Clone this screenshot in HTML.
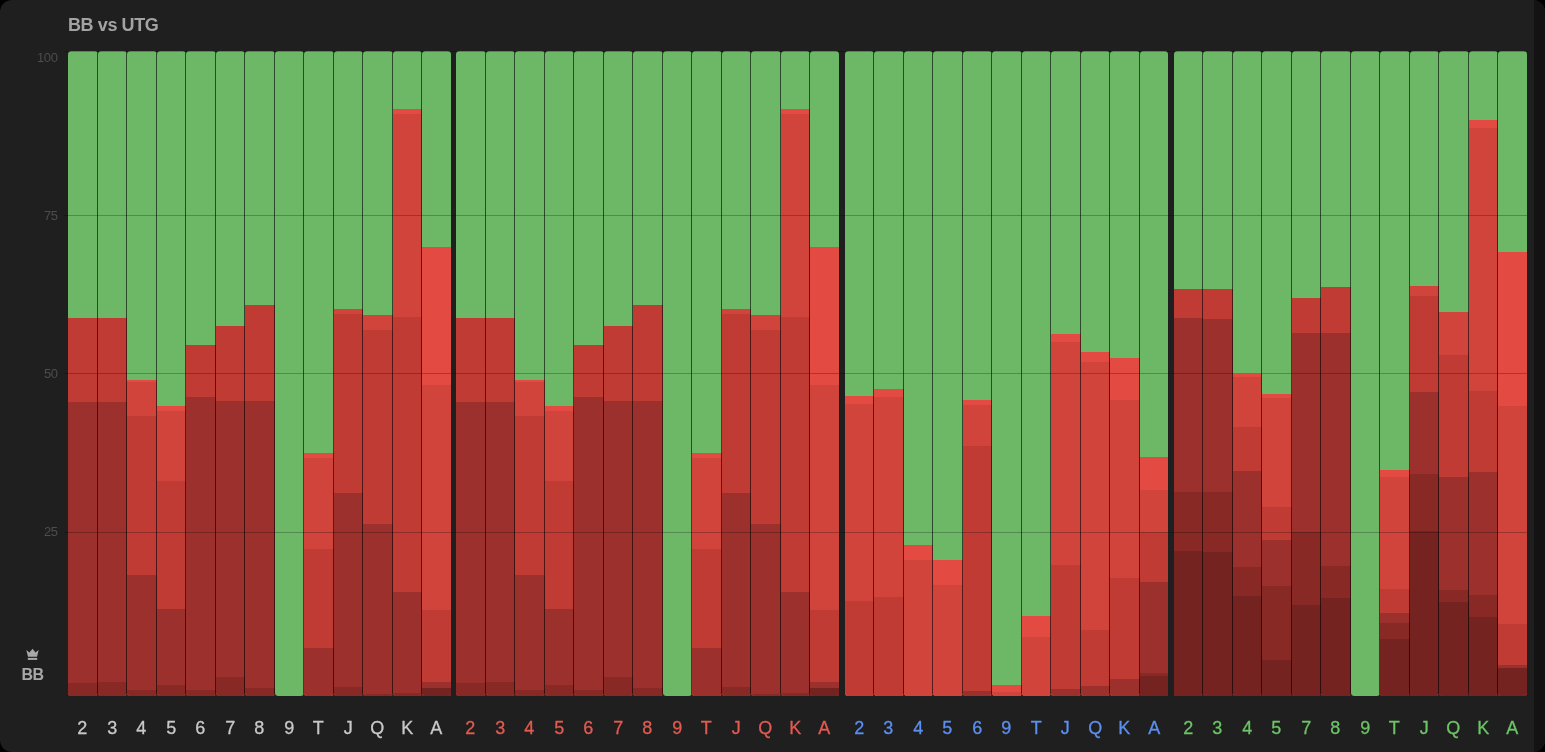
<!DOCTYPE html>
<html><head><meta charset="utf-8"><title>BB vs UTG</title>
<style>
html,body{margin:0;padding:0;background:#000;width:1545px;height:752px;overflow:hidden}
body{font-family:"Liberation Sans",sans-serif}
.card{position:absolute;left:0;top:0;width:1545px;height:752px;border-radius:12px;background:#1f1f1f;overflow:hidden}
.strip{position:absolute;left:1534px;top:0;width:11px;height:752px;background:#131313}
.title{position:absolute;left:68.3px;top:13.7px;font-size:18px;line-height:22px;font-weight:700;color:#a3a3a3;white-space:nowrap;letter-spacing:-0.4px;will-change:transform}
.yl{position:absolute;right:1487.6px;letter-spacing:-0.4px;font-size:13px;line-height:14px;color:#4d4d4d;text-align:right;white-space:nowrap;will-change:transform}
.b{position:absolute;top:51px;width:28.5px;height:645px;border-radius:3.5px;overflow:hidden}
.b i{position:absolute;left:0;width:100%;bottom:0;display:block}
.b.n{width:29.5px}
.b.n::after{content:"";position:absolute;right:0;top:0;bottom:0;width:1px;background:rgba(0,0,0,.6)}
.gl{position:absolute;left:64px;width:1463px;height:1px;background:rgba(0,0,0,.25)}
.xl{position:absolute;top:717px;width:28.5px;text-align:center;font-size:18px;line-height:22px;-webkit-text-stroke:0.3px currentColor;will-change:transform}
.bb{position:absolute;left:20px;top:665px;width:25px;text-align:center;font-size:16px;line-height:20px;font-weight:700;color:#a8a8a8;letter-spacing:-0.6px;will-change:transform}
.crown{position:absolute;left:26px;top:648px}
</style></head><body>
<div class="card">
<div class="strip"></div>
<div class="title">BB vs UTG</div>
<div class="yl" style="top:50.8px">100</div>
<div class="yl" style="top:208.8px">75</div>
<div class="yl" style="top:367px">50</div>
<div class="yl" style="top:525px">25</div>
<div class="b n" style="left:68.3px"><i style="top:0px;background:#6cb866"></i><i style="top:267.2px;background:#bf3b34"></i><i style="top:351.2px;background:#9b302d"></i><i style="top:632.1px;background:#882925"></i></div>
<div class="b n" style="left:97.8px"><i style="top:0px;background:#6cb866"></i><i style="top:266.7px;background:#bf3b34"></i><i style="top:351.2px;background:#9b302d"></i><i style="top:631.2px;background:#882925"></i></div>
<div class="b n" style="left:127.3px"><i style="top:0px;background:#6cb866"></i><i style="top:328.9px;background:#e24a42"></i><i style="top:330.8px;background:#d1443c"></i><i style="top:364.7px;background:#bf3b34"></i><i style="top:524.2px;background:#9b302d"></i><i style="top:639px;background:#882925"></i></div>
<div class="b n" style="left:156.8px"><i style="top:0px;background:#6cb866"></i><i style="top:354.9px;background:#e24a42"></i><i style="top:359.9px;background:#d1443c"></i><i style="top:429.8px;background:#bf3b34"></i><i style="top:557.7px;background:#9b302d"></i><i style="top:633.6px;background:#882925"></i></div>
<div class="b n" style="left:186.3px"><i style="top:0px;background:#6cb866"></i><i style="top:294.4px;background:#bf3b34"></i><i style="top:345.6px;background:#9b302d"></i><i style="top:639.3px;background:#882925"></i></div>
<div class="b n" style="left:215.8px"><i style="top:0px;background:#6cb866"></i><i style="top:274.8px;background:#bf3b34"></i><i style="top:349.9px;background:#9b302d"></i><i style="top:626.3px;background:#882925"></i></div>
<div class="b n" style="left:245.3px"><i style="top:0px;background:#6cb866"></i><i style="top:253.8px;background:#bf3b34"></i><i style="top:349.9px;background:#9b302d"></i><i style="top:637.4px;background:#882925"></i></div>
<div class="b n" style="left:274.8px"><i style="top:0px;background:#6cb866"></i></div>
<div class="b n" style="left:304.3px"><i style="top:0px;background:#6cb866"></i><i style="top:401.5px;background:#e24a42"></i><i style="top:407.1px;background:#d1443c"></i><i style="top:497.5px;background:#bf3b34"></i><i style="top:596.8px;background:#9b302d"></i></div>
<div class="b n" style="left:333.8px"><i style="top:0px;background:#6cb866"></i><i style="top:258.3px;background:#d1443c"></i><i style="top:262.9px;background:#bf3b34"></i><i style="top:441.9px;background:#9b302d"></i><i style="top:636.1px;background:#882925"></i></div>
<div class="b n" style="left:363.3px"><i style="top:0px;background:#6cb866"></i><i style="top:263.9px;background:#d1443c"></i><i style="top:278.6px;background:#bf3b34"></i><i style="top:473px;background:#9b302d"></i><i style="top:643px;background:#882925"></i></div>
<div class="b n" style="left:392.8px"><i style="top:0px;background:#6cb866"></i><i style="top:58px;background:#e24a42"></i><i style="top:62.6px;background:#d1443c"></i><i style="top:265.7px;background:#bf3b34"></i><i style="top:540.9px;background:#9b302d"></i><i style="top:642.1px;background:#882925"></i></div>
<div class="b" style="left:422.3px"><i style="top:0px;background:#6cb866"></i><i style="top:195.9px;background:#e24a42"></i><i style="top:333.9px;background:#d1443c"></i><i style="top:558.6px;background:#bf3b34"></i><i style="top:631.2px;background:#9b302d"></i><i style="top:637.1px;background:#742320"></i></div>
<div class="b n" style="left:456.3px"><i style="top:0px;background:#6cb866"></i><i style="top:267.2px;background:#bf3b34"></i><i style="top:351.2px;background:#9b302d"></i><i style="top:632.1px;background:#882925"></i></div>
<div class="b n" style="left:485.8px"><i style="top:0px;background:#6cb866"></i><i style="top:266.7px;background:#bf3b34"></i><i style="top:351.2px;background:#9b302d"></i><i style="top:631.2px;background:#882925"></i></div>
<div class="b n" style="left:515.3px"><i style="top:0px;background:#6cb866"></i><i style="top:328.9px;background:#e24a42"></i><i style="top:330.8px;background:#d1443c"></i><i style="top:364.7px;background:#bf3b34"></i><i style="top:524.2px;background:#9b302d"></i><i style="top:639px;background:#882925"></i></div>
<div class="b n" style="left:544.8px"><i style="top:0px;background:#6cb866"></i><i style="top:354.9px;background:#e24a42"></i><i style="top:359.9px;background:#d1443c"></i><i style="top:429.8px;background:#bf3b34"></i><i style="top:557.7px;background:#9b302d"></i><i style="top:633.6px;background:#882925"></i></div>
<div class="b n" style="left:574.3px"><i style="top:0px;background:#6cb866"></i><i style="top:294.4px;background:#bf3b34"></i><i style="top:345.6px;background:#9b302d"></i><i style="top:639.3px;background:#882925"></i></div>
<div class="b n" style="left:603.8px"><i style="top:0px;background:#6cb866"></i><i style="top:274.8px;background:#bf3b34"></i><i style="top:349.9px;background:#9b302d"></i><i style="top:626.3px;background:#882925"></i></div>
<div class="b n" style="left:633.3px"><i style="top:0px;background:#6cb866"></i><i style="top:253.8px;background:#bf3b34"></i><i style="top:349.9px;background:#9b302d"></i><i style="top:637.4px;background:#882925"></i></div>
<div class="b n" style="left:662.8px"><i style="top:0px;background:#6cb866"></i></div>
<div class="b n" style="left:692.3px"><i style="top:0px;background:#6cb866"></i><i style="top:401.5px;background:#e24a42"></i><i style="top:407.1px;background:#d1443c"></i><i style="top:497.5px;background:#bf3b34"></i><i style="top:596.8px;background:#9b302d"></i></div>
<div class="b n" style="left:721.8px"><i style="top:0px;background:#6cb866"></i><i style="top:258.3px;background:#d1443c"></i><i style="top:262.9px;background:#bf3b34"></i><i style="top:441.9px;background:#9b302d"></i><i style="top:636.1px;background:#882925"></i></div>
<div class="b n" style="left:751.3px"><i style="top:0px;background:#6cb866"></i><i style="top:263.9px;background:#d1443c"></i><i style="top:278.6px;background:#bf3b34"></i><i style="top:473px;background:#9b302d"></i><i style="top:643px;background:#882925"></i></div>
<div class="b n" style="left:780.8px"><i style="top:0px;background:#6cb866"></i><i style="top:58px;background:#e24a42"></i><i style="top:62.6px;background:#d1443c"></i><i style="top:265.7px;background:#bf3b34"></i><i style="top:540.9px;background:#9b302d"></i><i style="top:642.1px;background:#882925"></i></div>
<div class="b" style="left:810.3px"><i style="top:0px;background:#6cb866"></i><i style="top:195.9px;background:#e24a42"></i><i style="top:333.9px;background:#d1443c"></i><i style="top:558.6px;background:#bf3b34"></i><i style="top:631.2px;background:#9b302d"></i><i style="top:637.1px;background:#742320"></i></div>
<div class="b n" style="left:844.8px"><i style="top:0px;background:#6cb866"></i><i style="top:345px;background:#e24a42"></i><i style="top:353.2px;background:#d1443c"></i><i style="top:549.8px;background:#bf3b34"></i></div>
<div class="b n" style="left:874.3px"><i style="top:0px;background:#6cb866"></i><i style="top:338.3px;background:#e24a42"></i><i style="top:345.7px;background:#d1443c"></i><i style="top:546px;background:#bf3b34"></i></div>
<div class="b n" style="left:903.8px"><i style="top:0px;background:#6cb866"></i><i style="top:494.3px;background:#e24a42"></i><i style="top:508.8px;background:#d1443c"></i></div>
<div class="b n" style="left:933.3px"><i style="top:0px;background:#6cb866"></i><i style="top:508.8px;background:#e24a42"></i><i style="top:533.9px;background:#d1443c"></i></div>
<div class="b n" style="left:962.8px"><i style="top:0px;background:#6cb866"></i><i style="top:348.7px;background:#e24a42"></i><i style="top:354.3px;background:#d1443c"></i><i style="top:394.7px;background:#bf3b34"></i><i style="top:640px;background:#9b302d"></i></div>
<div class="b n" style="left:992.3px"><i style="top:0px;background:#6cb866"></i><i style="top:634px;background:#e24a42"></i><i style="top:641px;background:#d1443c"></i></div>
<div class="b n" style="left:1021.8px"><i style="top:0px;background:#6cb866"></i><i style="top:565px;background:#e24a42"></i><i style="top:585.8px;background:#d1443c"></i></div>
<div class="b n" style="left:1051.3px"><i style="top:0px;background:#6cb866"></i><i style="top:282.6px;background:#e24a42"></i><i style="top:290.8px;background:#d1443c"></i><i style="top:514.1px;background:#bf3b34"></i><i style="top:637.7px;background:#9b302d"></i></div>
<div class="b n" style="left:1080.8px"><i style="top:0px;background:#6cb866"></i><i style="top:301px;background:#e24a42"></i><i style="top:310.9px;background:#d1443c"></i><i style="top:579.2px;background:#bf3b34"></i><i style="top:635.1px;background:#9b302d"></i></div>
<div class="b n" style="left:1110.3px"><i style="top:0px;background:#6cb866"></i><i style="top:307.2px;background:#e24a42"></i><i style="top:349.1px;background:#d1443c"></i><i style="top:527.1px;background:#bf3b34"></i><i style="top:627.5px;background:#9b302d"></i></div>
<div class="b" style="left:1139.8px"><i style="top:0px;background:#6cb866"></i><i style="top:405.9px;background:#e24a42"></i><i style="top:439px;background:#d1443c"></i><i style="top:481px;background:#bf3b34"></i><i style="top:531.2px;background:#9b302d"></i><i style="top:621.9px;background:#882925"></i><i style="top:625.3px;background:#742320"></i></div>
<div class="b n" style="left:1173.9px"><i style="top:0px;background:#6cb866"></i><i style="top:238.2px;background:#bf3b34"></i><i style="top:267px;background:#9b302d"></i><i style="top:440.9px;background:#882925"></i><i style="top:500.1px;background:#742320"></i></div>
<div class="b n" style="left:1203.4px"><i style="top:0px;background:#6cb866"></i><i style="top:237.8px;background:#bf3b34"></i><i style="top:268px;background:#9b302d"></i><i style="top:440.9px;background:#882925"></i><i style="top:501.1px;background:#742320"></i></div>
<div class="b n" style="left:1232.9px"><i style="top:0px;background:#6cb866"></i><i style="top:323.3px;background:#e24a42"></i><i style="top:326.2px;background:#d1443c"></i><i style="top:376.1px;background:#bf3b34"></i><i style="top:419.9px;background:#9b302d"></i><i style="top:515.6px;background:#882925"></i><i style="top:545px;background:#742320"></i></div>
<div class="b n" style="left:1262.4px"><i style="top:0px;background:#6cb866"></i><i style="top:342.9px;background:#e24a42"></i><i style="top:346.9px;background:#d1443c"></i><i style="top:455.5px;background:#bf3b34"></i><i style="top:489.4px;background:#9b302d"></i><i style="top:535.4px;background:#882925"></i><i style="top:608.8px;background:#742320"></i></div>
<div class="b n" style="left:1291.9px"><i style="top:0px;background:#6cb866"></i><i style="top:246.6px;background:#bf3b34"></i><i style="top:282.3px;background:#9b302d"></i><i style="top:481px;background:#882925"></i><i style="top:554.3px;background:#742320"></i></div>
<div class="b n" style="left:1321.4px"><i style="top:0px;background:#6cb866"></i><i style="top:236.1px;background:#bf3b34"></i><i style="top:281.9px;background:#9b302d"></i><i style="top:515px;background:#882925"></i><i style="top:546.9px;background:#742320"></i></div>
<div class="b n" style="left:1350.9px"><i style="top:0px;background:#6cb866"></i></div>
<div class="b n" style="left:1380.4px"><i style="top:0px;background:#6cb866"></i><i style="top:418.8px;background:#e24a42"></i><i style="top:425.8px;background:#d1443c"></i><i style="top:538.3px;background:#bf3b34"></i><i style="top:562.1px;background:#9b302d"></i><i style="top:571.8px;background:#882925"></i><i style="top:587.8px;background:#742320"></i></div>
<div class="b n" style="left:1409.9px"><i style="top:0px;background:#6cb866"></i><i style="top:234.6px;background:#d1443c"></i><i style="top:245.2px;background:#bf3b34"></i><i style="top:341.1px;background:#9b302d"></i><i style="top:422.7px;background:#882925"></i><i style="top:480px;background:#742320"></i></div>
<div class="b n" style="left:1439.4px"><i style="top:0px;background:#6cb866"></i><i style="top:261.1px;background:#d1443c"></i><i style="top:303.9px;background:#bf3b34"></i><i style="top:425.5px;background:#9b302d"></i><i style="top:538.8px;background:#882925"></i><i style="top:551.3px;background:#742320"></i></div>
<div class="b n" style="left:1468.9px"><i style="top:0px;background:#6cb866"></i><i style="top:69.1px;background:#e24a42"></i><i style="top:76.9px;background:#d1443c"></i><i style="top:339.8px;background:#bf3b34"></i><i style="top:421.2px;background:#9b302d"></i><i style="top:544.4px;background:#882925"></i><i style="top:565.8px;background:#742320"></i></div>
<div class="b" style="left:1498.4px"><i style="top:0px;background:#6cb866"></i><i style="top:200.7px;background:#e24a42"></i><i style="top:355.4px;background:#d1443c"></i><i style="top:572.7px;background:#bf3b34"></i><i style="top:613.7px;background:#9b302d"></i><i style="top:617.3px;background:#742320"></i></div>
<div class="gl" style="top:50.5px"></div>
<div class="gl" style="top:215px"></div>
<div class="gl" style="top:373.3px"></div>
<div class="gl" style="top:531.7px"></div>
<span class="xl" style="left:68.3px;color:#c9c9c9">2</span>
<span class="xl" style="left:97.8px;color:#c9c9c9">3</span>
<span class="xl" style="left:127.3px;color:#c9c9c9">4</span>
<span class="xl" style="left:156.8px;color:#c9c9c9">5</span>
<span class="xl" style="left:186.3px;color:#c9c9c9">6</span>
<span class="xl" style="left:215.8px;color:#c9c9c9">7</span>
<span class="xl" style="left:245.3px;color:#c9c9c9">8</span>
<span class="xl" style="left:274.8px;color:#c9c9c9">9</span>
<span class="xl" style="left:304.3px;color:#c9c9c9">T</span>
<span class="xl" style="left:333.8px;color:#c9c9c9">J</span>
<span class="xl" style="left:363.3px;color:#c9c9c9">Q</span>
<span class="xl" style="left:392.8px;color:#c9c9c9">K</span>
<span class="xl" style="left:422.3px;color:#c9c9c9">A</span>
<span class="xl" style="left:456.3px;color:#e35a51">2</span>
<span class="xl" style="left:485.8px;color:#e35a51">3</span>
<span class="xl" style="left:515.3px;color:#e35a51">4</span>
<span class="xl" style="left:544.8px;color:#e35a51">5</span>
<span class="xl" style="left:574.3px;color:#e35a51">6</span>
<span class="xl" style="left:603.8px;color:#e35a51">7</span>
<span class="xl" style="left:633.3px;color:#e35a51">8</span>
<span class="xl" style="left:662.8px;color:#e35a51">9</span>
<span class="xl" style="left:692.3px;color:#e35a51">T</span>
<span class="xl" style="left:721.8px;color:#e35a51">J</span>
<span class="xl" style="left:751.3px;color:#e35a51">Q</span>
<span class="xl" style="left:780.8px;color:#e35a51">K</span>
<span class="xl" style="left:810.3px;color:#e35a51">A</span>
<span class="xl" style="left:844.8px;color:#5b8ff0">2</span>
<span class="xl" style="left:874.3px;color:#5b8ff0">3</span>
<span class="xl" style="left:903.8px;color:#5b8ff0">4</span>
<span class="xl" style="left:933.3px;color:#5b8ff0">5</span>
<span class="xl" style="left:962.8px;color:#5b8ff0">6</span>
<span class="xl" style="left:992.3px;color:#5b8ff0">9</span>
<span class="xl" style="left:1021.8px;color:#5b8ff0">T</span>
<span class="xl" style="left:1051.3px;color:#5b8ff0">J</span>
<span class="xl" style="left:1080.8px;color:#5b8ff0">Q</span>
<span class="xl" style="left:1110.3px;color:#5b8ff0">K</span>
<span class="xl" style="left:1139.8px;color:#5b8ff0">A</span>
<span class="xl" style="left:1173.9px;color:#6cc466">2</span>
<span class="xl" style="left:1203.4px;color:#6cc466">3</span>
<span class="xl" style="left:1232.9px;color:#6cc466">4</span>
<span class="xl" style="left:1262.4px;color:#6cc466">5</span>
<span class="xl" style="left:1291.9px;color:#6cc466">7</span>
<span class="xl" style="left:1321.4px;color:#6cc466">8</span>
<span class="xl" style="left:1350.9px;color:#6cc466">9</span>
<span class="xl" style="left:1380.4px;color:#6cc466">T</span>
<span class="xl" style="left:1409.9px;color:#6cc466">J</span>
<span class="xl" style="left:1439.4px;color:#6cc466">Q</span>
<span class="xl" style="left:1468.9px;color:#6cc466">K</span>
<span class="xl" style="left:1498.4px;color:#6cc466">A</span>
<svg class="crown" width="14" height="13" viewBox="0 0 14 13"><path d="M0.3 2 L3.5 4.6 L6.5 0.8 L9.5 4.6 L12.7 2 L11 8.8 L2 8.8 Z" fill="#a8a8a8"/><rect x="1.8" y="9.9" width="9.4" height="2" fill="#a8a8a8"/></svg>
<div class="bb">BB</div>
</div>
</body></html>
